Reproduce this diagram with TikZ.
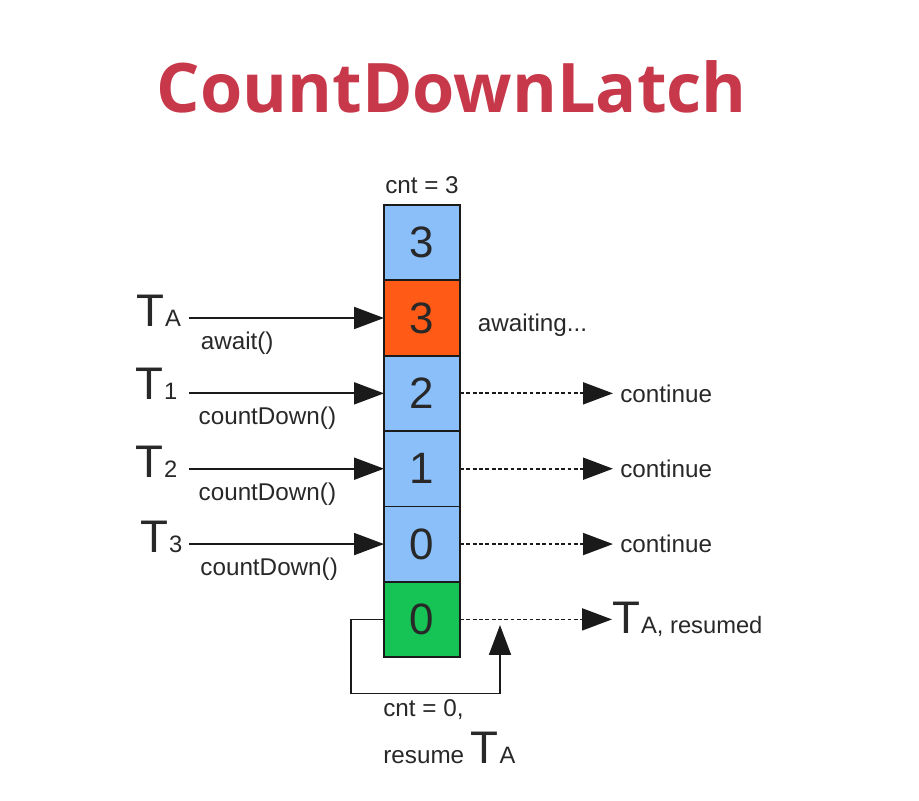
\documentclass[tikz,border=0pt]{standalone}
\usepackage{fontspec}
\setmainfont{Liberation Sans}
\newfontfamily\titlefont{Open Sans}
\usetikzlibrary{arrows.meta,positioning}
\definecolor{latchTitle}{RGB}{199,56,74}
\definecolor{latchBlue}{RGB}{138,191,250}
\definecolor{latchWait}{RGB}{255,91,22}
\definecolor{latchOpen}{RGB}{22,196,86}
\definecolor{latchLine}{RGB}{26,26,26}
\definecolor{latchText}{RGB}{40,40,40}
\newcommand{\thr}[1]{{\fontsize{26}{26}\selectfont T}\kern0.5pt{\fontsize{13.5}{14}\selectfont #1}}
\tikzset{
  cellbox/.style={rectangle, draw=latchLine, line width=1pt, fill=latchBlue,
    minimum width=1.52cm, minimum height=1.507cm, outer sep=0pt, inner sep=0pt,
    font=\fontsize{25}{25}\selectfont, text=latchText},
  waitcell/.style={cellbox, fill=latchWait},
  opencell/.style={cellbox, fill=latchOpen},
  threadlabel/.style={inner sep=0pt, text=latchText, anchor=base west},
  calllabel/.style={inner sep=0pt, font=\fontsize{13.8}{14}\selectfont, text=latchText},
  titlelabel/.style={font=\titlefont\bfseries\fontsize{38.9}{39}\selectfont, text=latchTitle, inner sep=0pt},
  flowarrow/.style={-{Triangle[length=17pt,width=12.5pt]}, draw=latchLine, line width=1pt},
  passarrow/.style={flowarrow, line width=1pt, dash pattern=on 2.2pt off 1.4pt},
}
\begin{document}
\begin{tikzpicture}[node distance=0pt]
  \useasboundingbox (0,0) rectangle (18.38,-16.02);

  \node[titlelabel, anchor=base] (title) at (9.04,-2.24) {CountDownLatch};

  % the latch column
  \node[cellbox] (c1) at (8.44,-4.853) {3};
  \node[waitcell, below=of c1] (c2) {3};
  \node[cellbox, below=of c2] (c3) {2};
  \node[cellbox, below=of c3] (c4) {1};
  \node[cellbox, below=of c4] (c5) {0};
  \node[opencell, below=of c5] (c6) {0};
  \node[calllabel, above=6pt of c1] (cnt3) {cnt = 3};

  % threads
  \node[threadlabel] (tA) at (2.72,-6.52) {\thr{A}};
  \node[threadlabel] (t1) at (2.7,-7.98) {\thr{1}};
  \node[threadlabel] (t2) at (2.7,-9.54) {\thr{2}};
  \node[threadlabel] (t3) at (2.8,-11.04) {\thr{3}};
  \coordinate (callstart) at (3.78,0);

  \draw[flowarrow] (callstart |- c2) -- (c2.west)
    node[calllabel, anchor=north west, pos=0, xshift=6.2pt, yshift=-7.5pt] {await()};
  \draw[flowarrow] (callstart |- c3) -- (c3.west)
    node[calllabel, anchor=north west, pos=0, xshift=5pt, yshift=-7.5pt] {countDown()};
  \draw[flowarrow] (callstart |- c4) -- (c4.west)
    node[calllabel, anchor=north west, pos=0, xshift=5pt, yshift=-7.5pt] {countDown()};
  \draw[flowarrow] (callstart |- c5) -- (c5.west)
    node[calllabel, anchor=north west, pos=0, xshift=6pt, yshift=-7.5pt] {countDown()};

  % outcomes
  \node[calllabel, right=10pt of c2, yshift=-4pt] (waiting) {awaiting...};
  \node[calllabel, anchor=west, right=3.2cm of c3] (go1) {continue};
  \node[calllabel, anchor=west, right=3.2cm of c4] (go2) {continue};
  \node[calllabel, anchor=west, right=3.2cm of c5] (go3) {continue};
  \node[threadlabel, anchor=west, right=3.04cm of c6] (tAr) {\thr{A, resumed}};

  \draw[passarrow] (c3.east) -- ([xshift=-4pt]go1.west);
  \draw[passarrow] (c4.east) -- ([xshift=-4pt]go2.west);
  \draw[passarrow] (c5.east) -- ([xshift=-4pt]go3.west);
  \draw[passarrow] (c6.east) -- (tAr.west);

  % wake-up loop
  \coordinate (wake) at (10.0,-12.5);
  \draw[flowarrow] (c6.west) -- ++(-0.66,0) -- ++(0,-1.48) -| (wake);
  \node[calllabel, anchor=base west] (cnt0) at (7.66,-14.32) {cnt = 0,};
  \node[calllabel, anchor=base west] (resume) at (7.66,-15.26) {resume \thr{A}};
\end{tikzpicture}
\end{document}
